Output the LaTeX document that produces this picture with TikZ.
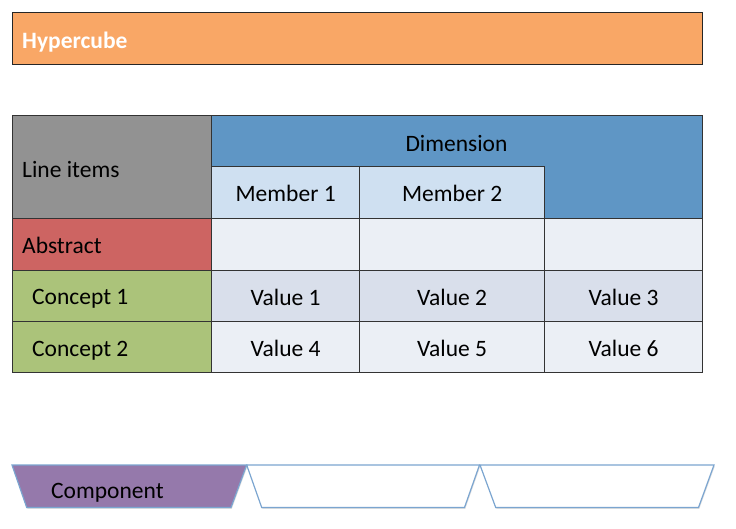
\documentclass[tikz,border=0pt]{standalone}
\usepackage{fontspec}
\setmainfont{Carlito}
\usetikzlibrary{shadows}

\definecolor{hcorange}{HTML}{F9A766}
\definecolor{hdgrey}{HTML}{929292}
\definecolor{dimblue}{HTML}{5F96C5}
\definecolor{memblue}{HTML}{CFE0F1}
\definecolor{absred}{HTML}{CD6462}
\definecolor{congreen}{HTML}{ABC37A}
\definecolor{valdark}{HTML}{D9DFEB}
\definecolor{vallight}{HTML}{EBEFF5}
\definecolor{comppurple}{HTML}{9579AB}
\definecolor{tabline}{HTML}{7BA5D0}
\definecolor{gridline}{HTML}{333333}

\tikzset{
  cell/.style={draw=gridline, line width=1.3pt, inner sep=0pt, anchor=north west,
    font=\fontsize{23.5}{27}\selectfont, text height=18pt, text depth=0pt},
  celltext/.style={inner sep=0pt, font=\fontsize{23.5}{27}\selectfont,
    text height=18pt, text depth=0pt},
  lefttext/.style={celltext, anchor=west},
  tabshape/.style={draw=tabline, line width=1.2pt, line join=miter,
    drop shadow={shadow xshift=0.8pt, shadow yshift=-1.4pt, opacity=0.25}},
}

\begin{document}
\begin{tikzpicture}[x=1pt, y=-1pt]
\useasboundingbox (0,0) rectangle (736,528);

% title bar
\node[cell, draw=black!85, fill=hcorange, minimum width=690pt, minimum height=52pt]
  (hyper) at (12,12) {};
\node[lefttext, text=white, font=\fontsize{23.5}{27}\selectfont\bfseries]
  (hypertext) at (22,39) {Hypercube};

% header block
\node[cell, fill=hdgrey, minimum width=199pt, minimum height=103pt] (items) at (12,115) {};
\node[lefttext] (itemstext) at (22,168) {Line items};
\node[cell, fill=dimblue, minimum width=491pt, minimum height=103pt] (dim) at (211,115) {};
\node[celltext] (dimtext) at (456.5,142) {Dimension};
\node[cell, fill=memblue, minimum width=148pt, minimum height=52pt] (mem1) at (211,166) {Member 1};
\node[cell, fill=memblue, minimum width=185pt, minimum height=52pt] (mem2) at (359,166) {Member 2};

% abstract row
\node[cell, fill=absred, minimum width=199pt, minimum height=52pt] (abs) at (12,218) {};
\node[lefttext] (abstext) at (22,244.5) {Abstract};
\node[cell, fill=vallight, minimum width=148pt, minimum height=52pt] (a1) at (211,218) {};
\node[cell, fill=vallight, minimum width=185pt, minimum height=52pt] (a2) at (359,218) {};
\node[cell, fill=vallight, minimum width=158pt, minimum height=52pt] (a3) at (544,218) {};

% concept 1 row
\node[cell, fill=congreen, minimum width=199pt, minimum height=51pt] (c1) at (12,270) {};
\node[lefttext] (c1text) at (32,295.5) {Concept 1};
\node[cell, fill=valdark, minimum width=148pt, minimum height=51pt] (v1) at (211,270) {Value 1};
\node[cell, fill=valdark, minimum width=185pt, minimum height=51pt] (v2) at (359,270) {Value 2};
\node[cell, fill=valdark, minimum width=158pt, minimum height=51pt] (v3) at (544,270) {Value 3};

% concept 2 row
\node[cell, fill=congreen, minimum width=199pt, minimum height=51pt] (c2) at (12,321) {};
\node[lefttext] (c2text) at (32,347.5) {Concept 2};
\node[cell, fill=vallight, minimum width=148pt, minimum height=51pt] (v4) at (211,321) {Value 4};
\node[cell, fill=vallight, minimum width=185pt, minimum height=51pt] (v5) at (359,321) {Value 5};
\node[cell, fill=vallight, minimum width=158pt, minimum height=51pt] (v6) at (544,321) {Value 6};

% component tabs
\draw[tabshape, fill=white] (480,465) -- (714,465) -- (698.5,507.5) -- (495.7,507.5) -- cycle;
\draw[tabshape, fill=white] (246.7,465) -- (479.5,465) -- (464.5,507.5) -- (261.7,507.5) -- cycle;
\draw[tabshape, fill=comppurple] (12,465) -- (246.7,465) -- (231,507.5) -- (26.7,507.5) -- cycle;
\node[lefttext] (comptext) at (51,489) {Component};
\end{tikzpicture}
\end{document}
